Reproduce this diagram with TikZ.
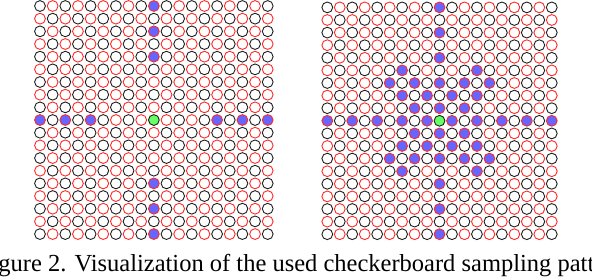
\documentclass[tikz,border=0pt]{standalone}
\usepackage{fontspec}
\setmainfont{Liberation Serif}
\definecolor{cred}{RGB}{255,40,40}
\definecolor{cblack}{RGB}{30,30,30}
\definecolor{cblue}{RGB}{102,102,255}
\definecolor{cgreen}{RGB}{102,255,102}
\tikzset{
  dot/.style={circle, draw, inner sep=0pt, minimum size=10.8pt, line width=0.9pt},
  redring/.style={draw=cred},
  blackring/.style={draw=cblack},
  bluefill/.style={fill=cblue},
  greenfill/.style={fill=cgreen},
  nofill/.style={},
  captext/.style={anchor=base west, inner sep=0pt, font=\fontsize{24.5}{28}\selectfont}
}
\begin{document}
\begin{tikzpicture}[x=1pt,y=-1pt]
\useasboundingbox (0,0) rectangle (592,276);
\clip (0,0) rectangle (592,276);
% blue marks, left grid
\foreach \r/\c in {0/9,2/9,4/9,14/9,16/9,18/9,9/0,9/2,9/4,9/14,9/16,9/18}
  {\expandafter\gdef\csname Lb-\r-\c\endcsname{}}
% blue marks, right grid
\foreach \r/\c in {0/9,2/9,4/9,14/9,16/9,18/9,
  9/0,9/2,9/4,9/6,9/8,9/10,9/12,9/14,9/16,9/18,
  5/6,5/12,6/5,6/7,6/9,6/11,6/13,7/6,7/8,7/10,7/12,8/7,8/9,8/11,
  10/7,10/9,10/11,11/6,11/8,11/10,11/12,12/5,12/7,12/9,12/11,12/13,13/6,13/12}
  {\expandafter\gdef\csname Rb-\r-\c\endcsname{}}
\foreach \g/\xo/\dx/\yo/\dy in {L/40/12.65/6/12.67, R/327.3/12.47/7.4/12.6}{
  \foreach \r in {0,...,18}{
    \foreach \c in {0,...,18}{
      \ifodd\numexpr\r+\c\relax \def\ring{redring}\else \def\ring{blackring}\fi
      \def\fil{nofill}
      \ifcsname \g b-\r-\c\endcsname \def\fil{bluefill}\fi
      \ifnum\r=9 \ifnum\c=9 \def\fil{greenfill}\fi\fi
      \node[dot,\ring,\fil] (\g-\r-\c) at ({\xo+\dx*\c},{\yo+\dy*\r}) {};
    }
  }
}
\node[captext] (cap) at (-1.8,271.5) {gure 2. Visualization of the used checkerboard sampling patt};
\end{tikzpicture}
\end{document}
